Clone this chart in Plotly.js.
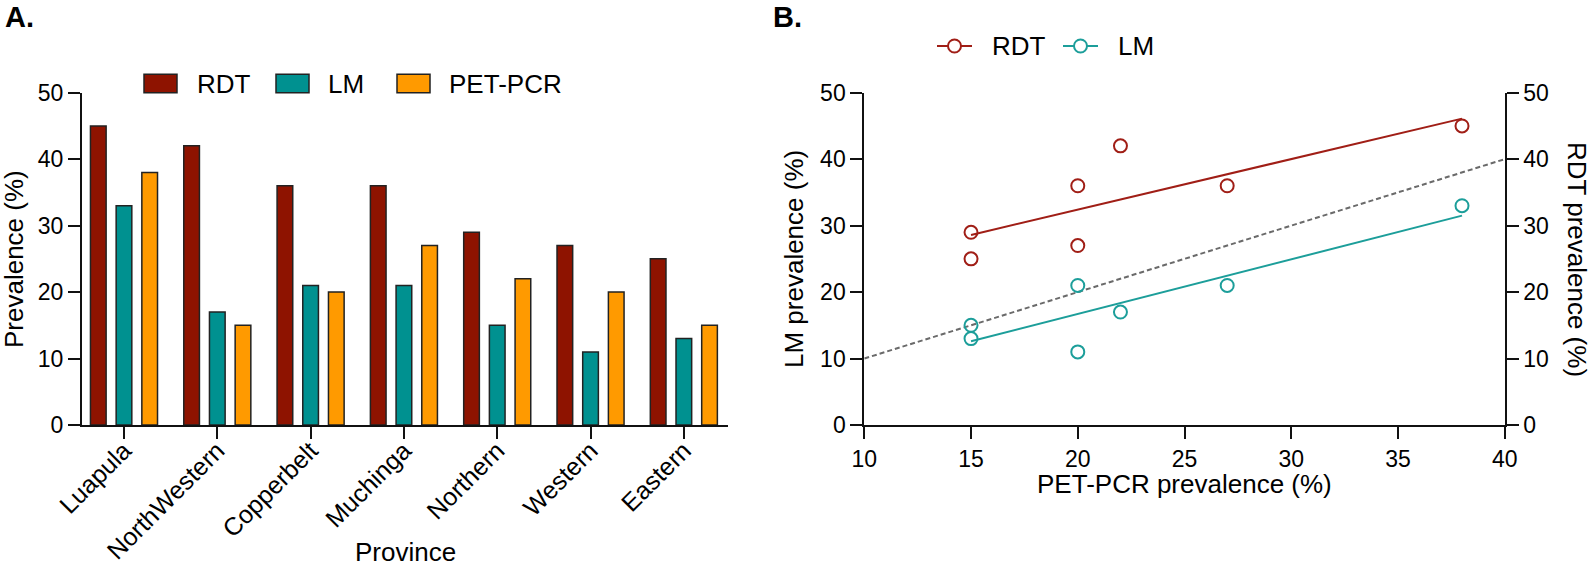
<!DOCTYPE html>
<html>
<head>
<meta charset="utf-8">
<script src="https://cdn.plot.ly/plotly-3.0.1.min.js"></script>
<style>html,body{margin:0;padding:0;background:#fff;}#chart{width:1594px;height:566px;}</style>
</head>
<body>
<div id="chart"></div>
<script>
// ---- Data ----
const provinces = ['Luapula', 'NorthWestern', 'Copperbelt', 'Muchinga', 'Northern', 'Western', 'Eastern'];
const rdtPrev = [45, 42, 36, 36, 29, 27, 25];
const lmPrev = [33, 17, 21, 21, 15, 11, 13];
const pcrPrev = [38, 15, 20, 27, 22, 20, 15];
const seriesNames = ['RDT', 'LM', 'PET-PCR'];

const scatterPcr = [15, 15, 20, 20, 22, 27, 38];
const scatterRdt = [29, 25, 36, 27, 42, 36, 45];
const scatterLm = [15, 13, 21, 11, 17, 21, 33];
const fitX = [15, 38];
const rdtFitY = [28.6, 46.1];
const lmFitY = [12.6, 31.5];
const identityX = [10, 40];
const identityY = [10, 40];

const yTicks = [0, 10, 20, 30, 40, 50];
const xTicksB = [10, 15, 20, 25, 30, 35, 40];

// ---- Style ----
const W = 1594, H = 566;
const px = v => v / W;
const py = v => 1 - v / H;
const FONT = 'Liberation Sans, Arial, Helvetica, sans-serif';
const barColors = ['#8E1300', '#009190', '#FF9A00'];
const barLine = '#222222';
const redC = '#A01E16';
const tealC = '#1C9E9A';

const axisCommon = {
  showline: true, linewidth: 2, linecolor: '#111',
  ticks: 'outside', ticklen: 12, tickwidth: 2, tickcolor: '#111',
  showgrid: false, zeroline: false, fixedrange: true,
  tickfont: {family: FONT, size: 23, color: '#000'}
};

const traces = [
  {type: 'bar', x: provinces, y: rdtPrev, name: seriesNames[0], xaxis: 'x', yaxis: 'y',
   marker: {color: barColors[0], line: {color: barLine, width: 1.5}}, showlegend: false},
  {type: 'bar', x: provinces, y: lmPrev, name: seriesNames[1], xaxis: 'x', yaxis: 'y',
   marker: {color: barColors[1], line: {color: barLine, width: 1.5}}, showlegend: false},
  {type: 'bar', x: provinces, y: pcrPrev, name: seriesNames[2], xaxis: 'x', yaxis: 'y',
   marker: {color: barColors[2], line: {color: barLine, width: 1.5}}, showlegend: false},
  // identity dashed line
  {type: 'scatter', mode: 'lines', x: identityX, y: identityY, xaxis: 'x2', yaxis: 'y2',
   line: {color: '#6a6a6a', width: 2, dash: '5px,3px'}, showlegend: false, cliponaxis: false},
  // fits
  {type: 'scatter', mode: 'lines', x: fitX, y: rdtFitY, xaxis: 'x2', yaxis: 'y3',
   line: {color: redC, width: 2}, showlegend: false},
  {type: 'scatter', mode: 'lines', x: fitX, y: lmFitY, xaxis: 'x2', yaxis: 'y2',
   line: {color: tealC, width: 2}, showlegend: false},
  // points
  {type: 'scatter', mode: 'markers', x: scatterPcr, y: scatterRdt, name: 'RDT', xaxis: 'x2', yaxis: 'y3',
   marker: {symbol: 'circle-open', size: 13, color: redC, line: {width: 2, color: redC}}, showlegend: false, cliponaxis: false},
  {type: 'scatter', mode: 'markers', x: scatterPcr, y: scatterLm, name: 'LM', xaxis: 'x2', yaxis: 'y2',
   marker: {symbol: 'circle-open', size: 13, color: tealC, line: {width: 2, color: tealC}}, showlegend: false, cliponaxis: false}
];

const yDom = [py(425), py(92.7)];

const layout = {
  width: W, height: H,
  margin: {l: 0, r: 0, t: 0, b: 0, pad: 0},
  paper_bgcolor: '#fff', plot_bgcolor: 'rgba(0,0,0,0)',
  font: {family: FONT, color: '#000'},
  showlegend: false,
  barmode: 'group', bargap: 0.174, bargroupgap: 0.39,
  xaxis: Object.assign({}, axisCommon, {
    domain: [px(82), px(727.7)], type: 'category', range: [-0.45, 6.47],
    tickangle: -45, tickfont: {family: FONT, size: 25, color: '#000'}, anchor: 'y', automargin: false,
    ticklabelstandoff: -13
  }),
  yaxis: Object.assign({}, axisCommon, {
    domain: yDom, range: [0, 50], tickvals: yTicks, anchor: 'x', automargin: false
  }),
  xaxis2: Object.assign({}, axisCommon, {
    domain: [px(864.3), px(1504.7)], range: [10, 40], tickvals: xTicksB, anchor: 'y2', automargin: false
  }),
  yaxis2: Object.assign({}, axisCommon, {
    domain: yDom, range: [0, 50], tickvals: yTicks, anchor: 'x2', side: 'left', automargin: false
  }),
  yaxis3: Object.assign({}, axisCommon, {
    domain: yDom, range: [0, 50], tickvals: yTicks, anchor: 'x2', side: 'right', overlaying: 'y2', automargin: false
  }),
  shapes: [],
  annotations: []
};

function ann(text, x, y, opts) {
  layout.annotations.push(Object.assign({
    text: text, x: px(x), y: py(y), xref: 'paper', yref: 'paper', showarrow: false,
    xanchor: 'center', yanchor: 'middle', font: {family: FONT, size: 26, color: '#000'}
  }, opts || {}));
}

// panel letters
ann('<b>A.</b>', 3, 17, {xanchor: 'left', font: {family: FONT, size: 29, color: '#000'}});
ann('<b>B.</b>', 771, 17, {xanchor: 'left', font: {family: FONT, size: 29, color: '#000'}});
// axis titles
ann('Prevalence (%)', 14, 259, {textangle: -90});
ann('Province', 405, 552);
ann('LM prevalence (%)', 794, 259, {textangle: -90});
ann('RDT prevalence (%)', 1577, 259, {textangle: 90});
ann('PET-PCR prevalence (%)', 1184.5, 484);

// left legend (bars)
const boxX = [144, 276, 397];
const txtX = [195, 326, 447];
seriesNames.forEach((n, i) => {
  layout.shapes.push({type: 'rect', xref: 'paper', yref: 'paper',
    x0: px(boxX[i]), x1: px(boxX[i] + 33), y0: py(92.7), y1: py(74.3),
    fillcolor: barColors[i], line: {color: barLine, width: 1.5}});
  ann(n, txtX[i], 84, {xanchor: 'left'});
});

// right legend (lines + open circles)
const legB = [{name: 'RDT', c: redC, x0: 937, x1: 972, tx: 990},
              {name: 'LM', c: tealC, x0: 1063, x1: 1098, tx: 1116}];
legB.forEach(l => {
  layout.shapes.push({type: 'line', xref: 'paper', yref: 'paper',
    x0: px(l.x0), x1: px(l.x1), y0: py(46), y1: py(46), line: {color: l.c, width: 2}});
  const cx = (l.x0 + l.x1) / 2;
  layout.shapes.push({type: 'circle', xref: 'paper', yref: 'paper',
    xsizemode: 'pixel', ysizemode: 'pixel', xanchor: px(cx), yanchor: py(46),
    x0: -6.5, x1: 6.5, y0: -6.5, y1: 6.5, fillcolor: '#fff', line: {color: l.c, width: 2}});
  ann(l.name, l.tx, 46, {xanchor: 'left'});
});

Plotly.newPlot('chart', traces, layout, {staticPlot: true, displayModeBar: false});
</script>
</body>
</html>
